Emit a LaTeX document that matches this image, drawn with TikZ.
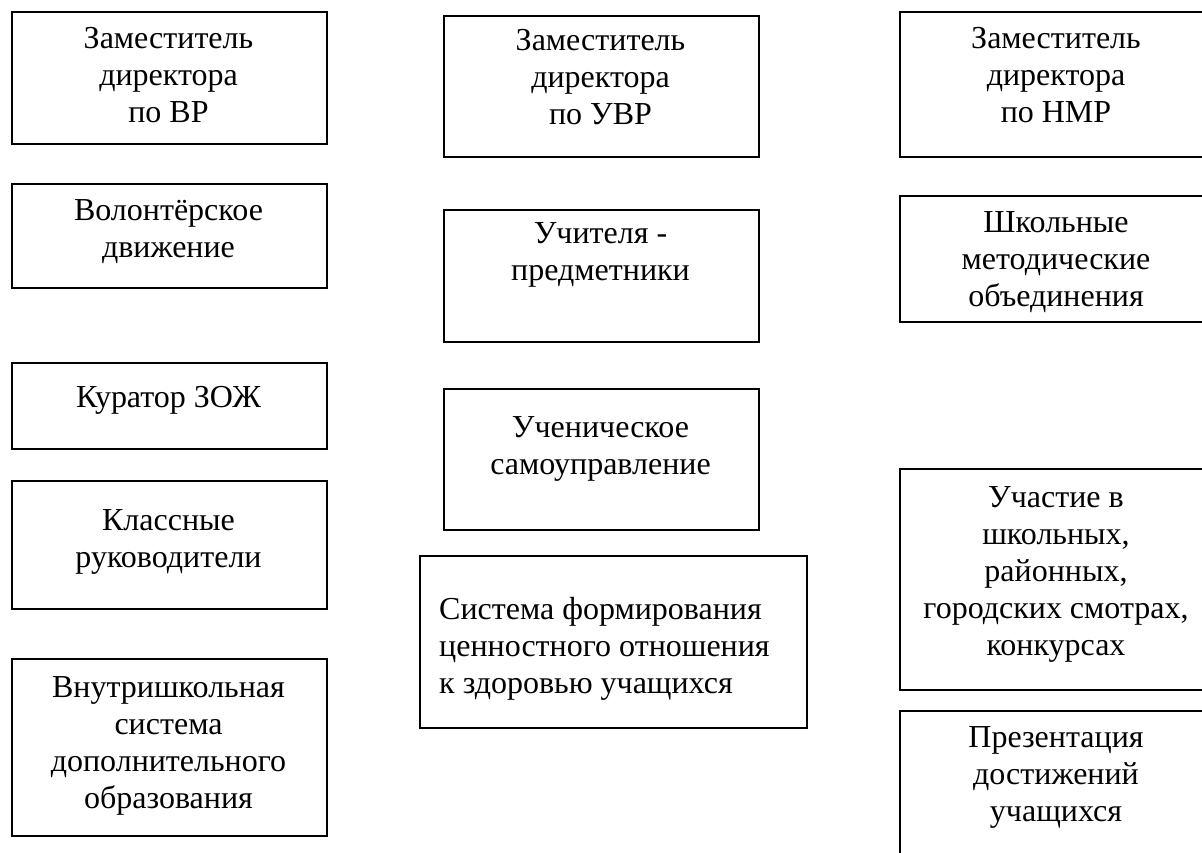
\documentclass[tikz,border=0pt]{standalone}
\usepackage{fontspec}
\setmainfont{Liberation Serif}
\begin{document}
\begin{tikzpicture}[x=1pt,y=-1pt,
  box/.style={draw, line width=1.8pt, rectangle, inner sep=0pt, anchor=north west},
  txt/.style={align=center, inner sep=0pt, anchor=north, font=\fontsize{32}{37}\selectfont, execute at begin node=\strut},
  txtl/.style={align=left, inner sep=0pt, anchor=north west, font=\fontsize{32}{37}\selectfont, execute at begin node=\strut}]
\useasboundingbox (0,0) rectangle (1202,852);
\clip (0,0) rectangle (1202,852);
\fill[white] (0,0) rectangle (1202,852);
% left column
\node[box, minimum width=315pt, minimum height=132pt] (b1) at (11,11) {};
\node[txt] (t1) at (168.5,27) {Заместитель\\директора\\по ВР};
\node[box, minimum width=315pt, minimum height=104pt] (b2) at (11,183) {};
\node[txt] (t2) at (168.5,199) {Волонтёрское\\движение};
\node[box, minimum width=315pt, minimum height=86pt] (b3) at (11,362) {};
\node[txt] (t3) at (168.5,381) {Куратор ЗОЖ};
\node[box, minimum width=315pt, minimum height=128pt] (b4) at (11,480) {};
\node[txt] (t4) at (168.5,509) {Классные\\руководители};
\node[box, minimum width=315pt, minimum height=177pt] (b5) at (11,658) {};
\node[txt] (t5) at (168.5,676) {Внутришкольная\\система\\дополнительного\\образования};
% middle column
\node[box, minimum width=315pt, minimum height=141pt] (b6) at (443,15) {};
\node[txt] (t6) at (600.5,29) {Заместитель\\директора\\по УВР};
\node[box, minimum width=315pt, minimum height=132pt] (b7) at (443,209) {};
\node[txt] (t7) at (600.5,222) {Учителя -\\предметники};
\node[box, minimum width=315pt, minimum height=141pt] (b8) at (443,388) {};
\node[txt] (t8) at (600.5,416) {Ученическое\\самоуправление};
\node[box, minimum width=387pt, minimum height=172pt] (b9) at (419,555) {};
\node[txtl] (t9) at (439,597) {Система формирования\\ценностного отношения\\к здоровью учащихся};
% right column
\node[box, minimum width=314pt, minimum height=145pt] (b10) at (899,11) {};
\node[txt] (t10) at (1056,27) {Заместитель\\директора\\по НМР};
\node[box, minimum width=314pt, minimum height=126pt] (b11) at (899,195) {};
\node[txt] (t11) at (1056,211) {Школьные\\методические\\объединения};
\node[box, minimum width=314pt, minimum height=221pt] (b12) at (899,468) {};
\node[txt] (t12) at (1056,486) {Участие в\\школьных,\\районных,\\городских смотрах,\\конкурсах};
\node[box, minimum width=314pt, minimum height=160pt] (b13) at (899,710) {};
\node[txt] (t13) at (1056,726) {Презентация\\достижений\\учащихся};
\end{tikzpicture}
\end{document}
